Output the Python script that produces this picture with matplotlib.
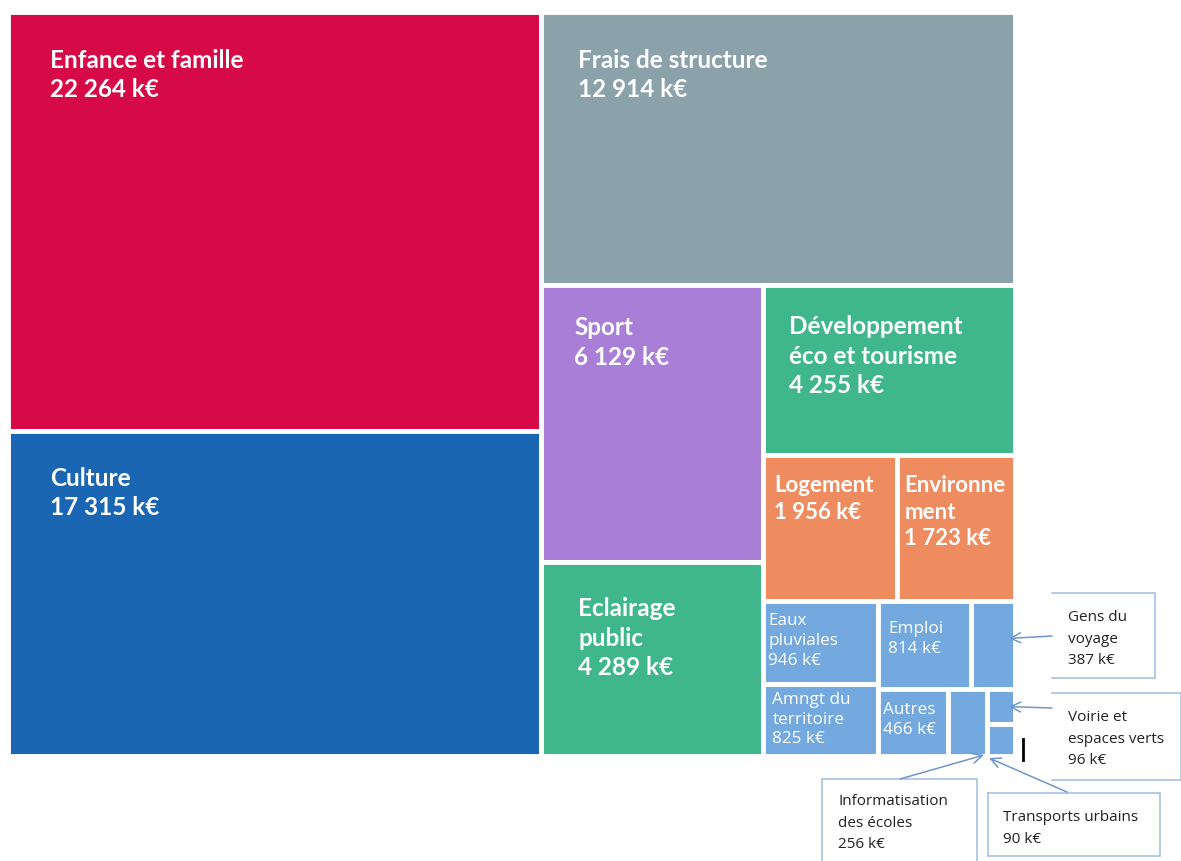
import matplotlib
matplotlib.use("Agg")
import matplotlib.pyplot as plt
from matplotlib.patches import Rectangle

# budget items (k€), in treemap order
labels = ["Enfance et famille", "Culture", "Frais de structure", "Sport",
          "Eclairage\npublic", "Développement\néco et tourisme", "Logement",
          "Environne\nment", "Eaux\npluviales", "Amngt du\nterritoire",
          "Emploi", "Gens du\nvoyage", "Autres", "Informatisation\ndes écoles",
          "Voirie et\nespaces verts", "Transports urbains"]
values = [22264, 17315, 12914, 6129, 4289, 4255, 1956, 1723, 946, 825,
          814, 387, 466, 256, 96, 90]
colors = ["#D60A46", "#1A66B3", "#8BA2AA", "#A87ED7", "#40B68D", "#40B68D",
          "#EF8C5F", "#EF8C5F", "#73A9DF", "#73A9DF", "#73A9DF", "#73A9DF",
          "#73A9DF", "#73A9DF", "#73A9DF", "#73A9DF"]

# which labels go inside the tile, which go into a callout box
big = [0, 1, 2, 3, 4, 5]
medium = [6, 7]
small = [8, 9, 10, 12]
callout = [11, 13, 14, 15]


def fmt(v):
    return "{:,}".format(v).replace(",", " ") + " k€"


def worst(row, side):
    s = sum(row)
    return max(max(side * side * r / (s * s), s * s / (side * side * r)) for r in row)


def squarify(vals, x, y, w, h):
    total = sum(vals)
    areas = [v * w * h / total for v in vals]
    rects = []
    i = 0
    while i < len(areas):
        side = min(w, h)
        row = [areas[i]]
        i += 1
        while i < len(areas) and worst(row + [areas[i]], side) <= worst(row, side):
            row.append(areas[i])
            i += 1
        s = sum(row)
        if w >= h:
            cw = s / h
            yy = y
            for a in row:
                rects.append((x, yy, cw, a / cw))
                yy += a / cw
            x += cw
            w -= cw
        else:
            rh = s / w
            xx = x
            for a in row:
                rects.append((xx, y, a / rh, rh))
                xx += a / rh
            y += rh
            h -= rh
    return rects


W, H = 1181, 862
fig = plt.figure(figsize=(W / 100, H / 100), dpi=100)
ax = fig.add_axes([0, 0, 1, 1])
ax.set_xlim(0, W)
ax.set_ylim(H, 0)
ax.axis("off")

rects = squarify(values, 8, 13, 1007, 744)

for (x, y, w, h), c in zip(rects, colors):
    ax.add_patch(Rectangle((x, y), w, h, facecolor=c, edgecolor="white", linewidth=3.5))

# text padding inside tiles (px)
pad = {0: (42, 36), 1: (42, 35), 2: (37, 36), 3: (33, 30), 4: (37, 34), 5: (26, 29),
       6: (11, 19), 7: (7, 19), 8: (5, 11), 9: (9, 7), 10: (10, 19), 12: (5, 12)}

for i in big + medium:
    x, y, w, h = rects[i]
    px, py = pad[i]
    ax.text(x + px, y + py, labels[i] + "\n" + fmt(values[i]), color="white",
            fontsize=17.5 if i in big else 16, fontfamily="Lato", fontweight="bold",
            va="top", ha="left", linespacing=1.34)

for i in small:
    x, y, w, h = rects[i]
    px, py = pad[i]
    ax.text(x + px, y + py, labels[i] + "\n" + fmt(values[i]), color="white",
            fontsize=12.3, fontfamily="Open Sans", va="top", ha="left", linespacing=1.3)

# callout boxes: (box outline points, text x, text y, arrow start)
box_col = "#A6C1E6"
arrow_col = "#6F96CC"
boxes = {
    11: ([(1052, 594), (1155, 594), (1155, 679), (1052, 679)], 1068, 610, (1052, 637)),
    14: ([(1052, 694), (1181, 694), (1181, 781), (1052, 781)], 1068, 710, (1052, 709)),
    13: ([(822, 862), (822, 780), (977, 780), (977, 862)], 838, 794, (900, 780)),
    15: ([(988, 794), (1160, 794), (1160, 857), (988, 857), (988, 794)], 1003, 810, (1067, 793)),
}
targets = {
    11: lambda r: (r[0] + r[2] - 6, r[1] + r[3] * 0.42),
    14: lambda r: (r[0] + r[2] - 6, r[1] + r[3] * 0.5),
    13: lambda r: (r[0] + r[2] - 3, r[1] + r[3] - 1),
    15: lambda r: (r[0] + 2, r[1] + r[3] + 2),
}

for i in callout:
    pts, tx, ty, start = boxes[i]
    ax.plot([p[0] for p in pts], [p[1] for p in pts], color=box_col, linewidth=1.2,
            solid_joinstyle="miter")
    lines = labels[i].split("\n")
    ax.text(tx, ty, "\n".join(lines + [fmt(values[i])]), color="#222222",
            fontsize=11, fontfamily="Open Sans", va="top", ha="left", linespacing=1.6)
    ax.annotate("", xy=targets[i](rects[i]), xytext=start,
                arrowprops=dict(arrowstyle="->", color=arrow_col, lw=1.1,
                                mutation_scale=18, shrinkA=0, shrinkB=0))

ax.plot([1023, 1023], [740, 761], color="black", linewidth=2)

fig.savefig("out.png", dpi=100)
